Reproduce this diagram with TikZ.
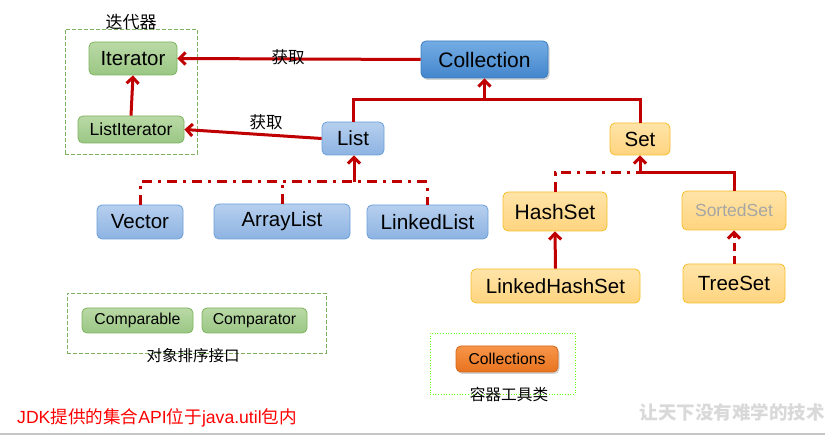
\documentclass[tikz,border=0pt]{standalone}
\usepackage{fontspec}
\setmainfont{Liberation Sans}
\newfontfamily\cjk{Noto Sans CJK SC}
\usetikzlibrary{arrows.meta,shadows}
\definecolor{lred}{HTML}{C00000}
\definecolor{gT}{HTML}{BAD9A6}
\definecolor{gB}{HTML}{9AC784}
\definecolor{gD}{HTML}{7DB35E}
\definecolor{bT}{HTML}{B6CFEE}
\definecolor{bB}{HTML}{8DB3E2}
\definecolor{bD}{HTML}{6C9FD8}
\definecolor{cT}{HTML}{74ACE4}
\definecolor{cB}{HTML}{4386CC}
\definecolor{cD}{HTML}{3C7EC2}
\definecolor{yT}{HTML}{FFE4A8}
\definecolor{yB}{HTML}{FFD47F}
\definecolor{yD}{HTML}{F6BF2C}
\definecolor{oT}{HTML}{F79549}
\definecolor{oB}{HTML}{E8731E}
\definecolor{oD}{HTML}{D4661A}
\begin{document}
\begin{tikzpicture}[x=1pt,y=-1pt,
  fsz/.style={font=\fontsize{#1}{#1}\selectfont},
  box/.style={rounded corners=5pt, line width=0.8pt, inner sep=0pt, align=center},
  gnode/.style={box, draw=gD, top color=gT, bottom color=gB},
  bnode/.style={box, draw=bD, top color=bT, bottom color=bB},
  cnode/.style={box, draw=cD, top color=cT, bottom color=cB,
     drop shadow={shadow xshift=1.5pt, shadow yshift=-2pt, opacity=0.35}},
  ynode/.style={box, draw=yD, top color=yT, bottom color=yB},
  onode/.style={box, draw=oD, top color=oT, bottom color=oB,
     drop shadow={shadow xshift=1.5pt, shadow yshift=-2pt, opacity=0.35}},
  rline/.style={draw=lred, line width=3pt},
  rarrow/.style={rline, -{Straight Barb[length=6pt,width=12pt]}},
  ddot/.style={draw=lred, line width=3pt, dash pattern=on 10pt off 6pt on 3pt off 6pt},
  lbl/.style={inner sep=0pt}
]
\useasboundingbox (0,0) rectangle (825,435);

% group boxes
\node[draw=gD, dash pattern=on 4pt off 2pt, line width=0.8pt, minimum width=132pt, minimum height=125pt, inner sep=0pt] (itbox) at (131,91.5) {};
\node[lbl, fsz=17] (itlab) at (131,22) {\cjk 迭代器};
\node[draw=gD, dash pattern=on 4pt off 2pt, line width=0.8pt, minimum width=259pt, minimum height=60pt, inner sep=0pt] (cmpbox) at (196.5,323) {};
\node[draw=green!60!yellow, dotted, line width=0.7pt, minimum width=145pt, minimum height=61pt, inner sep=0pt] (utilbox) at (502.5,363.5) {};

% nodes
\node[gnode, fsz=20.5, minimum width=88pt, minimum height=33pt] (Iterator) at (133,58.5) {Iterator};
\node[gnode, fsz=17.5, minimum width=106pt, minimum height=27pt] (ListIterator) at (131,129.5) {ListIterator};
\node[cnode, fsz=21, minimum width=127pt, minimum height=37pt] (Collection) at (484.5,59.5) {Collection};
\node[bnode, fsz=20.5, minimum width=62pt, minimum height=33pt] (List) at (353,138.5) {List};
\node[ynode, fsz=20.5, minimum width=60pt, minimum height=32pt] (Set) at (640,139) {Set};
\node[bnode, fsz=20.5, minimum width=86pt, minimum height=34pt] (Vector) at (140,222) {Vector};
\node[bnode, fsz=20.5, minimum width=136pt, minimum height=35pt] (ArrayList) at (282,221.5) {ArrayList};
\node[bnode, fsz=20.8, minimum width=121pt, minimum height=34pt] (LinkedList) at (427.5,222) {LinkedList};
\node[ynode, fsz=21, minimum width=104pt, minimum height=39pt] (HashSet) at (555,211.5) {HashSet};
\node[ynode, fsz=17.5, text=gray!70, minimum width=104pt, minimum height=39pt] (SortedSet) at (734,210.5) {SortedSet};
\node[ynode, fsz=20.5, minimum width=169pt, minimum height=34pt] (LinkedHashSet) at (555.5,286) {LinkedHashSet};
\node[ynode, fsz=20.5, minimum width=102pt, minimum height=39pt] (TreeSet) at (734,283.5) {TreeSet};
\node[gnode, fsz=15.8, minimum width=111pt, minimum height=25pt] (Comparable) at (137.5,320.5) {Comparable};
\node[gnode, fsz=15.8, minimum width=105pt, minimum height=25pt] (Comparator) at (254.5,320.5) {Comparator};
\node[onode, fsz=15.7, minimum width=102pt, minimum height=26pt] (Collections) at (507,359) {Collections};

% labels
\node[lbl, fsz=15.5] (cmplab) at (193,356) {\cjk 对象排序接口};
\node[lbl, fsz=15.7] (utillab) at (509,394) {\cjk 容器工具类};

% connectors
\draw[rarrow] (Collection.west) -- (Iterator.east);
\node[lbl, fsz=16.5] (get1) at (288,57) {\cjk 获取};
\draw[rarrow] (List.west) -- (ListIterator.east);
\node[lbl, fsz=16.5] (get2) at (266,122) {\cjk 获取};
\draw[rarrow] (ListIterator.north) -- (Iterator.south);

\coordinate (cj) at (484.5,100);
\draw[rline] (List.north) |- (cj) -| (Set.north);
\draw[rarrow] (cj) -- (Collection.south);

\coordinate (lj) at (354,182);
\draw[ddot] (Vector.north) |- (lj) -| (LinkedList.north);
\draw[ddot] (ArrayList.north) -- (ArrayList.north |- lj);
\draw[rarrow] (lj) -- (lj |- List.south);

\coordinate (sj) at (640,173);
\draw[ddot] (HashSet.north) |- (sj);
\draw[rline] (SortedSet.north) |- (sj);
\draw[rarrow] (sj) -- (Set.south);

\draw[rarrow] (LinkedHashSet.north) -- (HashSet.south);
\draw[rarrow, dash pattern=on 8pt off 5pt] (TreeSet.north) -- (SortedSet.south);

% footer
\node[lbl, anchor=west, text=red, fsz=17.6] (note) at (17,418) {JDK{\cjk 提供的集合}API{\cjk 位于}java.util{\cjk 包内}};
\node[lbl, anchor=east, text=gray!30, fsz=18.5] (wm) at (825,412) {\cjk\bfseries 让天下没有难学的技术};
\draw[gray!45, line width=1.5pt] (0,434) -- (825,434);
\end{tikzpicture}
\end{document}
